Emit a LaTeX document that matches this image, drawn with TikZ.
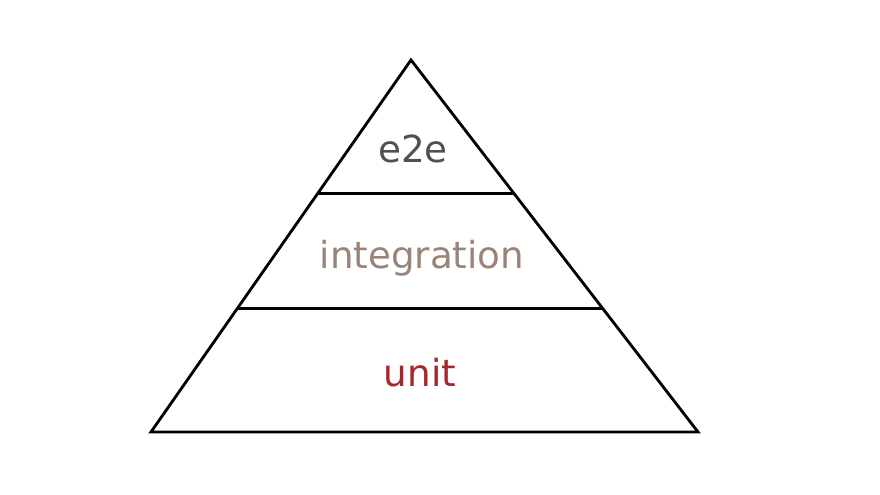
\documentclass[tikz,border=0pt]{standalone}
\usepackage{fontspec}
\setmainfont{DejaVu Sans}
\usetikzlibrary{calc}
\definecolor{grisE}{HTML}{505050}
\definecolor{marron}{HTML}{9A8478}
\definecolor{rojo}{HTML}{A3282C}
\tikzset{
    capa/.style={font=\fontsize{10.6}{12}\selectfont, inner sep=0pt},
    borde/.style={line width=0.8pt}
}
\begin{document}
\begin{tikzpicture}
            \useasboundingbox (0,0) rectangle (8.8,4.95);
            \coordinate (cima) at (4.11,4.35);
            \coordinate (izq) at (1.51,0.63);
            \coordinate (der) at (6.98,0.63);
            \draw[borde, line join=miter] (izq) -- (cima) -- (der) -- cycle;
            \coordinate (izq1) at ($(izq)!0.333!(cima)$);
            \coordinate (der1) at ($(der)!0.333!(cima)$);
            \coordinate (izq2) at ($(izq)!0.64!(cima)$);
            \coordinate (der2) at ($(der)!0.64!(cima)$);
            \draw[borde] (izq1) -- (der1);
            \draw[borde] (izq2) -- (der2);
            \node[capa, text=grisE] (e2e) at (4.13,3.46) {e2e};
            \node[capa, text=marron] (integracion) at (4.22,2.37) {integration};
            \node[capa, text=rojo] (unidad) at (4.20,1.22) {unit};
        \end{tikzpicture}
\end{document}
